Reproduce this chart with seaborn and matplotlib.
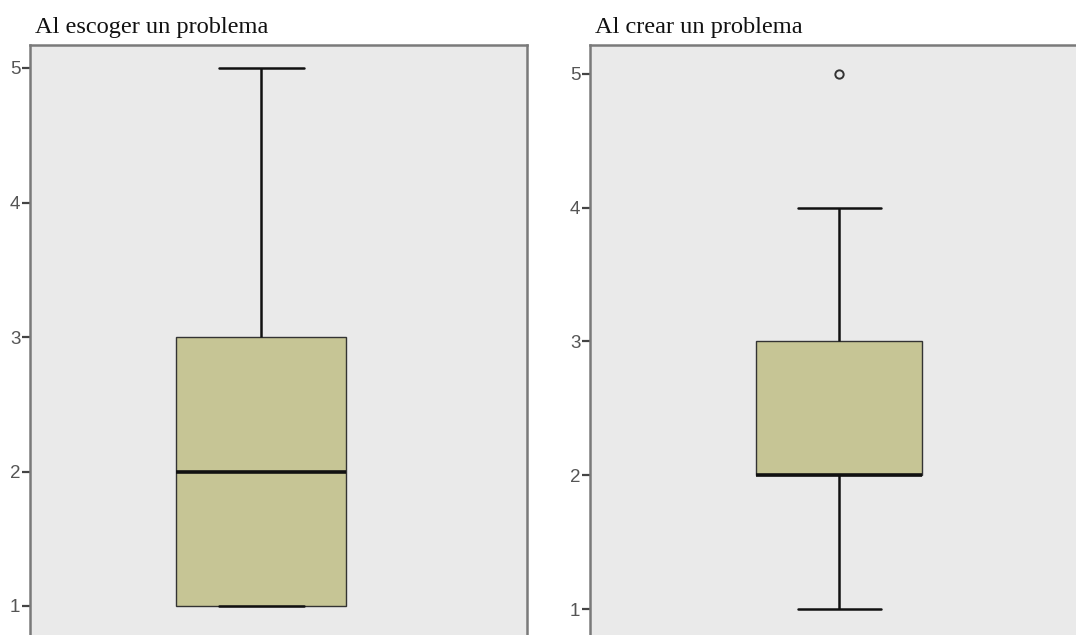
import numpy as np
import pandas as pd
import matplotlib
matplotlib.use("Agg")
import matplotlib.pyplot as plt
import seaborn as sns

# Data (ordinal responses 1-5)
titles = ["Al escoger un problema", "Al crear un problema"]
escoger_values = [1, 1, 1, 1, 2, 2, 2, 3, 3, 3, 4, 5]
crear_values = [1, 2, 2, 2, 2, 2, 3, 3, 3, 4, 5]
yticks = [1, 2, 3, 4, 5]

sns.set_style("white")

W, H = 1076, 635
fig = plt.figure(figsize=(W / 100, H / 100), dpi=100)

box_color = "#C6C595"
bg = "#EAEAEA"
spine_c = "#7A7A7A"

# axes in pixel layout: (left, top, right, bottom, ylim, xlim)
layouts = [
    (30, 45, 527, 635, (1 - 29 / 134.5, 5 + 23 / 134.5), (-231 / 212.5, 266 / 212.5)),
    (590, 45, 1076, 635, (1 - 26 / 133.75, 5 + 29 / 133.75), (-249 / 207.5, 237 / 207.5)),
]
datasets = [escoger_values, crear_values]

for i, (vals, title, lay) in enumerate(zip(datasets, titles, layouts)):
    l, t, r, b, ylim, xlim = lay
    ax = fig.add_axes([l / W, 1 - b / H, (r - l) / W, (b - t) / H])
    ax.set_facecolor(bg)
    df = pd.DataFrame({"g": ["a"] * len(vals), "v": vals})
    sns.boxplot(
        data=df, x="g", y="v", ax=ax, width=0.8, color=box_color,
        whis=1.5, linewidth=1.2, linecolor="#2b2b2b",
        boxprops=dict(facecolor=box_color, edgecolor="#333333", linewidth=1.0),
        medianprops=dict(color="#111111", linewidth=2.6),
        whiskerprops=dict(color="#111111", linewidth=1.8),
        capprops=dict(color="#111111", linewidth=1.8),
        flierprops=dict(marker="o", markersize=6, markerfacecolor="none",
                        markeredgecolor="#333333", markeredgewidth=1.4),
    )
    ax.set_ylim(*ylim)
    ax.set_xlim(*xlim)
    ax.set_yticks(yticks)
    ax.set_yticklabels([str(v) for v in yticks], fontsize=13.5, color="#555555",
                       family="Liberation Sans")
    ax.set_xticks([])
    ax.set_xlabel("")
    ax.set_ylabel("")
    ax.tick_params(axis="y", direction="out", length=6, width=1.6, color="#444444",
                   pad=1, left=True)
    for side in ["top", "left", "right"]:
        ax.spines[side].set_visible(True)
        ax.spines[side].set_color(spine_c)
        ax.spines[side].set_linewidth(1.8)
    ax.spines["bottom"].set_visible(False)
    if i == 1:
        ax.spines["right"].set_visible(False)
    fig.text((l + 5) / W, 1 - 33 / H, title, fontsize=17.6, family="Liberation Serif",
             color="#111111", ha="left", va="baseline")

fig.savefig("out.png", dpi=100)
